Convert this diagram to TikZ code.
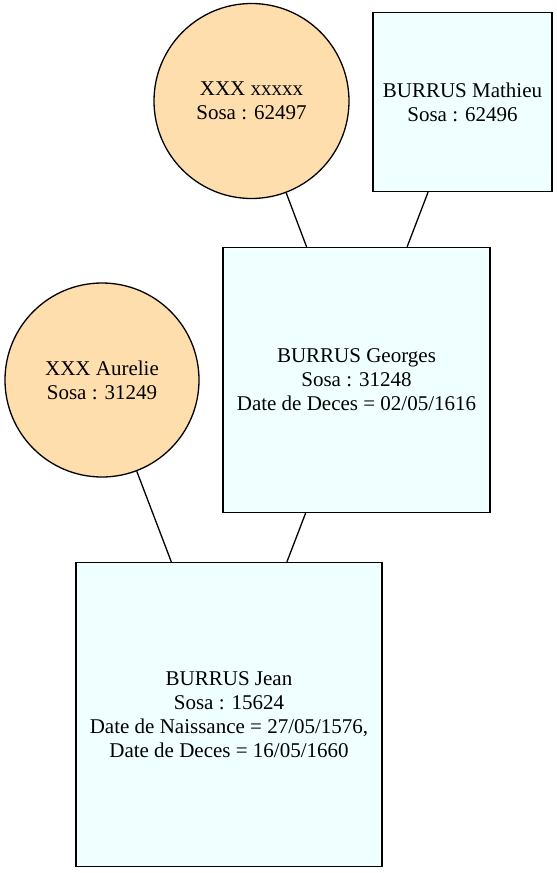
\documentclass[tikz,border=0pt]{standalone}
\usepackage{fontspec}
\setmainfont{Liberation Serif}
\usepackage{tikz}
\usetikzlibrary{positioning}
\definecolor{ink}{HTML}{000000}
\definecolor{peach}{HTML}{FFDEAD}
\definecolor{azurebg}{HTML}{F0FFFF}
\tikzset{
  every node/.style={font=\fontsize{21}{24}\selectfont,text=ink},
  person/.style={draw=ink,line width=1.3pt,align=center,inner sep=0pt},
  female/.style={person,circle,fill=peach},
  male/.style={person,rectangle,fill=azurebg},
  link/.style={draw=ink,line width=1.3pt}
}
\begin{document}
\begin{tikzpicture}[x=1pt,y=-1pt]
  \useasboundingbox (0,0) rectangle (557,873);

  \node[female,minimum size=195pt] (mere1) at (251.5,101) {XXX xxxxx\\Sosa : 62497};
  \node[male,minimum width=179pt,minimum height=179pt] (pere1) at (462.5,102) {BURRUS Mathieu\\Sosa : 62496};

  \node[male,minimum width=267pt,minimum height=265pt] (georges) at (356.5,380) {BURRUS Georges\\Sosa : 31248\\Date de Deces = 02/05/1616};
  \node[female,minimum size=194pt] (aurelie) at (102,380) {XXX Aurelie\\Sosa : 31249};

  \node[male,minimum width=306pt,minimum height=304pt] (jean) at (229,714.5) {BURRUS Jean\\Sosa : 15624\\Date de Naissance = 27/05/1576,\\Date de Deces = 16/05/1660};

  \draw[link] (mere1) -- (georges);
  \draw[link] (pere1) -- (georges);
  \draw[link] (aurelie) -- (jean);
  \draw[link] (georges) -- (jean);
\end{tikzpicture}
\end{document}
